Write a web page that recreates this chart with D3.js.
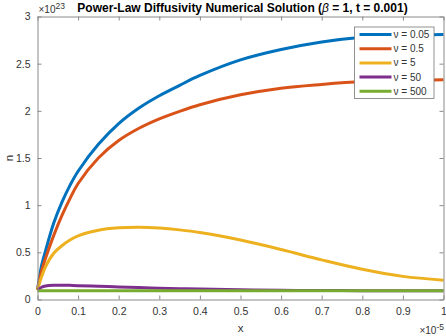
<!DOCTYPE html>
<meta charset="utf-8">
<script src="https://d3js.org/d3.v7.min.js"></script>
<style>
  body { margin: 0; background: #fff; }
  svg { font-family: "Liberation Sans", Arial, sans-serif; }
</style>
<div id="chart"></div>
<script>
// x positions (units of 1e-5) and n values (units of 1e23)
var xs = [0, 0.01, 0.02, 0.04, 0.06, 0.08, 0.1, 0.15, 0.2, 0.25, 0.3, 0.35, 0.4, 0.5, 0.6, 0.7, 0.8, 0.9, 1.0];
var nu005 = [0.1, 0.36, 0.52, 0.81, 1.03, 1.21, 1.36, 1.645, 1.865, 2.03, 2.16, 2.27, 2.375, 2.54, 2.65, 2.73, 2.78, 2.80, 2.81];
var nu05  = [0.1, 0.30, 0.44, 0.68, 0.89, 1.07, 1.23, 1.50, 1.685, 1.815, 1.915, 1.995, 2.065, 2.17, 2.24, 2.28, 2.31, 2.32, 2.33];
var nu5   = [0.1, 0.24, 0.35, 0.49, 0.57, 0.63, 0.675, 0.735, 0.76, 0.767, 0.758, 0.738, 0.71, 0.63, 0.53, 0.42, 0.32, 0.245, 0.205];
var nu50  = [0.1, 0.13, 0.143, 0.151, 0.152, 0.15, 0.147, 0.14, 0.133, 0.126, 0.12, 0.115, 0.11, 0.103, 0.098, 0.095, 0.094, 0.093, 0.093];
var nu500 = [0.093, 0.093, 0.093, 0.093, 0.093, 0.093, 0.093, 0.093, 0.093, 0.093, 0.093, 0.093, 0.093, 0.093, 0.093, 0.093, 0.093, 0.093, 0.093];

var seriesNames = ["\u03bd = 0.05", "\u03bd = 0.5", "\u03bd = 5", "\u03bd = 50", "\u03bd = 500"];
var seriesValues = [nu005, nu05, nu5, nu50, nu500];
var colors = ["#0072BD", "#D95319", "#EDB120", "#7E2F8E", "#77AC30"];

var xTicks = [0, 0.1, 0.2, 0.3, 0.4, 0.5, 0.6, 0.7, 0.8, 0.9, 1];
var yTicks = [0, 0.5, 1, 1.5, 2, 2.5, 3];

var W = 446, H = 336;
var margin = {top: 16.5, right: 2.5, bottom: 36.5, left: 37.5},
    width = W - margin.left - margin.right,
    height = H - margin.top - margin.bottom;

var svg = d3.select("#chart").append("svg")
    .attr("width", W)
    .attr("height", H);

var g = svg.append("g")
    .attr("transform", "translate(" + margin.left + "," + margin.top + ")");

var x = d3.scaleLinear().domain([0, 1]).range([0, width]);
var y = d3.scaleLinear().domain([0, 3]).range([height, 0]);

var axisColor = "#8a8a8a", textColor = "#333";

// lines
var line = d3.line()
    .x(function(d) { return x(d[0]); })
    .y(function(d) { return y(d[1]); })
    .curve(d3.curveCatmullRom.alpha(0.5));

seriesValues.forEach(function(vals, i) {
  g.append("path")
    .datum(xs.map(function(xv, j) { return [xv, vals[j]]; }))
    .attr("fill", "none")
    .attr("stroke", colors[i])
    .attr("stroke-width", 3)
    .attr("stroke-linejoin", "round")
    .attr("d", line);
});

// axes (box on, ticks inside)
function styleAxis(sel) {
  sel.select(".domain").attr("stroke", axisColor);
  sel.selectAll(".tick line").attr("stroke", axisColor);
  sel.selectAll(".tick text").attr("fill", textColor).style("font-size", "10.5px");
}

g.append("g")
    .attr("transform", "translate(0," + height + ")")
    .call(d3.axisBottom(x).tickValues(xTicks).tickSizeInner(-4).tickSizeOuter(0).tickPadding(8)
      .tickFormat(function(d) { return d === 0 || d === 1 ? d3.format("d")(d) : d3.format(".1f")(d); }))
    .call(styleAxis);

g.append("g")
    .call(d3.axisTop(x).tickValues(xTicks).tickSizeInner(-4).tickSizeOuter(0).tickFormat(""))
    .call(styleAxis);

g.append("g")
    .call(d3.axisLeft(y).tickValues(yTicks).tickSizeInner(-4).tickSizeOuter(0).tickPadding(7)
      .tickFormat(function(d) { return d; }))
    .call(styleAxis);

g.append("g")
    .attr("transform", "translate(" + width + ",0)")
    .call(d3.axisRight(y).tickValues(yTicks).tickSizeInner(-4).tickSizeOuter(0).tickFormat(""))
    .call(styleAxis);

// exponent labels
var yExp = svg.append("text")
    .attr("x", margin.left + 1)
    .attr("y", 12.5)
    .attr("fill", textColor)
    .style("font-size", "10px");
yExp.append("tspan").text("\u00d710");
yExp.append("tspan").attr("dy", -4).style("font-size", "8.5px").text("23");

var xExp = svg.append("text")
    .attr("x", W - 2)
    .attr("y", 334)
    .attr("text-anchor", "end")
    .attr("fill", textColor)
    .style("font-size", "10px");
xExp.append("tspan").text("\u00d710");
xExp.append("tspan").attr("dy", -4).style("font-size", "8.5px").text("-5");

// axis labels
svg.append("text")
    .attr("x", margin.left + width / 2)
    .attr("y", 332)
    .attr("text-anchor", "middle")
    .attr("fill", textColor)
    .style("font-size", "11.5px")
    .text("x");

svg.append("text")
    .attr("transform", "translate(13," + (margin.top + height / 2) + ") rotate(-90)")
    .attr("text-anchor", "middle")
    .attr("fill", textColor)
    .style("font-size", "11.5px")
    .text("n");

// title
var title = svg.append("text")
    .attr("x", margin.left + width / 2 + 2)
    .attr("y", 12)
    .attr("text-anchor", "middle")
    .attr("fill", "#000")
    .style("font-size", "12px")
    .style("font-weight", "bold");
title.append("tspan").text("Power-Law Diffusivity Numerical Solution (");
title.append("tspan").style("font-style", "italic").style("font-weight", "normal").text("\u03b2");
title.append("tspan").text(" = 1, t = 0.001)");

// legend
var lg = svg.append("g").attr("transform", "translate(354.5,27)");
lg.append("rect")
    .attr("width", 79.5)
    .attr("height", 71.5)
    .attr("fill", "#fff")
    .attr("stroke", "#777")
    .attr("stroke-width", 0.8);

var items = lg.selectAll("g.item")
    .data(seriesNames)
    .enter().append("g")
    .attr("class", "item")
    .attr("transform", function(d, i) { return "translate(0," + (7.5 + i * 14.2) + ")"; });

items.append("line")
    .attr("x1", 5).attr("x2", 37)
    .attr("stroke", function(d, i) { return colors[i]; })
    .attr("stroke-width", 3);

items.append("text")
    .attr("x", 39)
    .attr("dy", "0.35em")
    .attr("fill", textColor)
    .style("font-size", "10px")
    .text(function(d) { return d; });
</script>
